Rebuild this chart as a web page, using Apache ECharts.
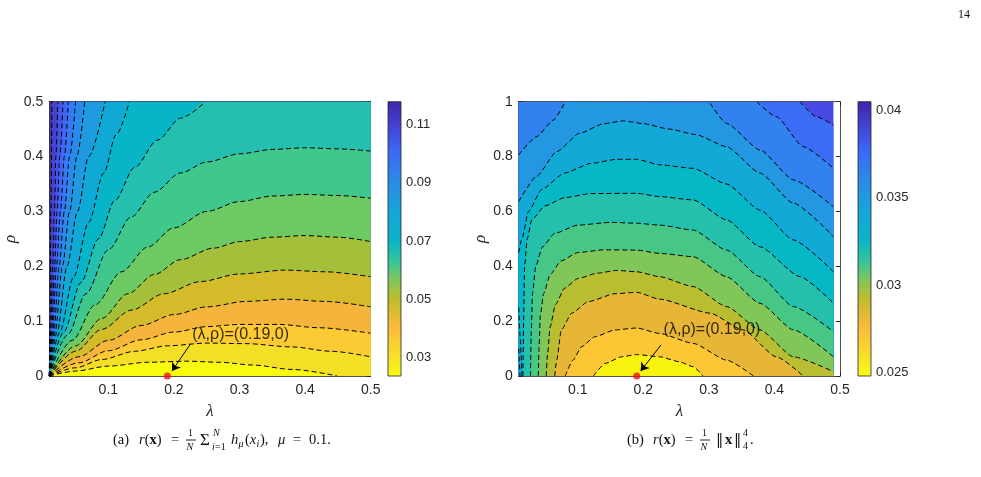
<!DOCTYPE html>
<html>
<head>
  <meta charset="utf-8">
  <title>Contour maps</title>
  <script src="https://cdn.jsdelivr.net/npm/echarts@6/dist/echarts.min.js"></script>
  <style>
    html, body { margin: 0; padding: 0; background: #fff; }
    #chart { width: 981px; height: 477px; }
  </style>
</head>
<body>
<div id="chart"></div>
<script>
  // axis ticks
  const lamTicks = [0.1, 0.2, 0.3, 0.4, 0.5];
  const cbTicksA = [0.03, 0.05, 0.07, 0.09, 0.11];
  const cbTicksB = [0.025, 0.03, 0.035, 0.04];
  const cbRangeA = [0.0237, 0.1178];
  const cbRangeB = [0.0248, 0.0405];
  const optimum = [0.19, 0];

  // (a) contour lines: [lambda, rho]
  // lines that end on the top edge
  const aL1 = [[0.01, 0], [0.011, 0.1], [0.0125, 0.3], [0.014, 0.5]];
  const aL2 = [[0.01, 0], [0.012, 0.08], [0.015, 0.2], [0.018, 0.3], [0.02, 0.4], [0.023, 0.5]];
  const aL3 = [[0.01, 0], [0.0135, 0.08], [0.018, 0.2], [0.022, 0.3], [0.026, 0.4], [0.031, 0.5]];
  const aL4 = [[0.01, 0], [0.015, 0.08], [0.021, 0.2], [0.027, 0.3], [0.033, 0.4], [0.039, 0.5]];
  const aL5 = [[0.01, 0], [0.017, 0.08], [0.025, 0.2], [0.033, 0.3], [0.041, 0.4], [0.05, 0.5]];
  const aL6 = [[0.01, 0], [0.019, 0.08], [0.03, 0.2], [0.041, 0.3], [0.052, 0.4], [0.064, 0.5]];
  const aL7 = [[0.01, 0], [0.022, 0.08], [0.037, 0.2], [0.053, 0.3], [0.07, 0.4], [0.095, 0.5]];
  const aL8 = [[0.01, 0], [0.026, 0.08], [0.047, 0.18], [0.07, 0.28], [0.093, 0.37], [0.112, 0.44], [0.132, 0.5]];
  const aL9 = [[0.01, 0], [0.032, 0.08], [0.058, 0.17], [0.085, 0.25], [0.11, 0.32], [0.14, 0.38], [0.175, 0.43], [0.21, 0.47], [0.248, 0.5]];
  // lines that end on the right edge (or bottom)
  const aR1 = [[0.01, 0], [0.038, 0.075], [0.066, 0.15], [0.1, 0.23], [0.135, 0.29], [0.17, 0.335], [0.21, 0.37], [0.25, 0.39], [0.3, 0.405], [0.35, 0.413], [0.4, 0.416], [0.45, 0.414], [0.5, 0.41]];
  const aR2 = [[0.01, 0], [0.045, 0.065], [0.08, 0.13], [0.12, 0.19], [0.16, 0.235], [0.2, 0.27], [0.25, 0.3], [0.3, 0.318], [0.35, 0.328], [0.4, 0.331], [0.45, 0.329], [0.5, 0.324]];
  const aR3 = [[0.01, 0], [0.05, 0.055], [0.09, 0.105], [0.13, 0.15], [0.17, 0.185], [0.21, 0.212], [0.26, 0.233], [0.3, 0.245], [0.35, 0.253], [0.4, 0.256], [0.45, 0.253], [0.5, 0.245]];
  const aR4 = [[0.01, 0], [0.05, 0.045], [0.09, 0.085], [0.135, 0.12], [0.185, 0.15], [0.24, 0.172], [0.3, 0.186], [0.37, 0.193], [0.43, 0.19], [0.5, 0.181]];
  const aR5 = [[0.01, 0], [0.055, 0.035], [0.1, 0.065], [0.15, 0.092], [0.2, 0.112], [0.25, 0.126], [0.31, 0.136], [0.37, 0.14], [0.43, 0.136], [0.5, 0.126]];
  const aR6 = [[0.01, 0], [0.055, 0.024], [0.1, 0.046], [0.15, 0.066], [0.2, 0.08], [0.25, 0.09], [0.3, 0.094], [0.36, 0.094], [0.42, 0.088], [0.5, 0.078]];
  const aR7 = [[0.01, 0], [0.05, 0.015], [0.09, 0.03], [0.14, 0.045], [0.19, 0.055], [0.25, 0.06], [0.31, 0.059], [0.38, 0.053], [0.44, 0.045], [0.5, 0.035]];
  const aG = [[0.01, 0], [0.05, 0.009], [0.1, 0.018], [0.16, 0.025], [0.22, 0.027], [0.27, 0.025], [0.32, 0.02], [0.38, 0.012], [0.449, 0]];

  // (b) contour lines
  const bA = [[0.01, 0.806], [0.037, 0.872], [0.063, 0.933], [0.081, 1]];
  const bC1 = [[0.439, 1], [0.464, 0.945], [0.49, 0.915]];
  const bC2 = [[0.373, 1], [0.403, 0.945], [0.444, 0.836], [0.49, 0.757]];
  const bC3 = [[0.302, 0.994], [0.327, 0.921], [0.378, 0.824], [0.429, 0.715], [0.49, 0.617]];
  const bC4 = [[0.01, 0.636], [0.037, 0.727], [0.068, 0.818], [0.103, 0.885], [0.14, 0.92], [0.17, 0.93], [0.2, 0.92], [0.24, 0.9], [0.28, 0.88], [0.327, 0.836], [0.378, 0.74], [0.429, 0.63], [0.49, 0.508]];
  const bC5 = [[0.01, 0.45], [0.015, 0.5], [0.025, 0.6], [0.045, 0.68], [0.08, 0.74], [0.12, 0.775], [0.16, 0.79], [0.19, 0.79], [0.225, 0.77], [0.276, 0.757], [0.327, 0.7], [0.378, 0.605], [0.429, 0.496], [0.49, 0.38]];
  const bC6 = [[0.0165, 0], [0.0175, 0.2], [0.019, 0.4], [0.023, 0.5], [0.03, 0.57], [0.05, 0.62], [0.08, 0.65], [0.12, 0.665], [0.19, 0.666], [0.225, 0.654], [0.276, 0.642], [0.327, 0.569], [0.378, 0.471], [0.439, 0.362], [0.49, 0.265]];
  const bC7 = [[0.028, 0], [0.029, 0.15], [0.031, 0.3], [0.036, 0.4], [0.046, 0.47], [0.065, 0.52], [0.1, 0.55], [0.15, 0.56], [0.19, 0.557], [0.225, 0.55], [0.276, 0.532], [0.327, 0.459], [0.378, 0.362], [0.429, 0.253], [0.49, 0.162]];
  const bC8 = [[0.04, 0], [0.041, 0.1], [0.043, 0.22], [0.048, 0.3], [0.058, 0.37], [0.075, 0.42], [0.1, 0.45], [0.14, 0.46], [0.19, 0.459], [0.225, 0.447], [0.276, 0.435], [0.327, 0.362], [0.378, 0.265], [0.429, 0.168], [0.49, 0.07]];
  const bC9 = [[0.052, 0], [0.054, 0.08], [0.058, 0.18], [0.066, 0.26], [0.08, 0.32], [0.1, 0.355], [0.13, 0.375], [0.16, 0.385], [0.19, 0.38], [0.225, 0.362], [0.276, 0.326], [0.327, 0.253], [0.378, 0.168], [0.429, 0.07], [0.49, 0.016]];
  const bC10 = [[0.065, 0], [0.068, 0.058], [0.075, 0.168], [0.091, 0.229], [0.116, 0.271], [0.157, 0.3], [0.19, 0.305], [0.225, 0.28], [0.302, 0.229], [0.352, 0.168], [0.403, 0.07], [0.444, 0]];
  const bC11 = [[0.081, 0], [0.093, 0.058], [0.106, 0.107], [0.126, 0.143], [0.157, 0.168], [0.19, 0.175], [0.225, 0.155], [0.276, 0.119], [0.327, 0.058], [0.368, 0]];
  const bC12 = [[0.124, 0], [0.142, 0.046], [0.167, 0.07], [0.19, 0.078], [0.225, 0.07], [0.255, 0.052], [0.276, 0.034], [0.291, 0]];
  // small pieces closing the bottom-left corner
  const bK5 = [[0.01, 0.25], [0.012, 0.15], [0.0138, 0.07], [0.015, 0]];
  const bK4 = [[0.01, 0.1], [0.011, 0.05], [0.012, 0]];

  // annotation anchors
  const labelA = [0.228, 0.075];
  const arrowA = [[0.225, 0.058], [0.197, 0.009]];
  const labelB = [0.231, 0.168];
  const arrowB = [[0.227, 0.113], [0.196, 0.018]];

  // band colours (fill below/right of each line)
  const bgA = '#3e35ab';
  const fillA = ['#4542cf', '#4653e6', '#4066f4', '#3479f7', '#2a8aec', '#1f9ae0', '#10a9d6', '#07b5c7',
    '#24bfae', '#3fc78c', '#6dc962', '#a4bf39', '#d3bb2a', '#f5b43c', '#fcca33', '#f3df26', '#f8fa10'];
  const bgB = '#4848e4';
  const fillB = ['#3a6cf6', '#3182ee', '#2497e2', '#12a9d6', '#06b7c6', '#24c0ab', '#46c786', '#80c659',
    '#b8bd31', '#e8b637', '#fcc634', '#f8f40f'];
  const cornerB = ['#12a9d6', '#2497e2'];
  const parulaStops = [[0, '#3e26a8'], [0.083, '#4340d0'], [0.18, '#3d68f5'], [0.295, '#2a8ce6'], [0.4, '#16a6da'],
    [0.508, '#0bb4c5'], [0.58, '#35c49a'], [0.65, '#80c65c'], [0.72, '#c0bc2c'], [0.82, '#fbba3c'], [0.93, '#f7e228'], [1, '#f9fb15']];

  const ink = '#262626';
  const topLinesA = [aL1, aL2, aL3, aL4, aL5, aL6, aL7, aL8, aL9];
  const sideLinesA = [aR1, aR2, aR3, aR4, aR5, aR6, aR7, aG];
  const linesB = [bA, bC1, bC2, bC3, bC4, bC5, bC6, bC7, bC8, bC9, bC10, bC11, bC12, bK5, bK4];
  const fillsB = [[[0.01, 1]].concat(bC1), [[0.01, 1]].concat(bC2), bA.concat(bC3), bC4, bC5, bC6, bC7, bC8, bC9, bC10, bC11, bC12];

  function fill(ax, pts, color, sm) {
    return {
      type: 'line', xAxisIndex: ax, yAxisIndex: ax, data: pts, symbol: 'none', silent: true,
      smooth: sm, smoothMonotone: 'x', lineStyle: { width: 0 },
      areaStyle: { color: color, opacity: 1, origin: 'start' }, z: 1, animation: false
    };
  }
  function dash(ax, pts, sm) {
    return {
      type: 'line', xAxisIndex: ax, yAxisIndex: ax, data: pts, symbol: 'none', silent: true,
      smooth: sm, smoothMonotone: 'x', lineStyle: { color: '#000', width: 1, type: [5, 3] }, z: 2, animation: false
    };
  }
  function annot(ax, label, arrow) {
    return [{
      type: 'scatter', xAxisIndex: ax, yAxisIndex: ax, data: [optimum], symbolSize: 7, clip: false, z: 6,
      itemStyle: { color: '#e8141c' },
      markLine: {
        silent: true, symbol: ['none', 'arrow'], symbolSize: 8, label: { show: false },
        lineStyle: { color: '#000', type: 'solid', width: 1 },
        data: [[{ coord: arrow[0] }, { coord: arrow[1] }]]
      }
    }, {
      type: 'scatter', xAxisIndex: ax, yAxisIndex: ax, data: [label], symbolSize: 0, z: 6, silent: true,
      label: {
        show: true, position: 'right', distance: 0, formatter: '(λ,ρ)=(0.19,0)',
        fontFamily: 'Liberation Sans', fontSize: 16, color: '#000'
      }
    }];
  }

  const series = [];
  topLinesA.forEach(function (l, i) { series.push(fill(0, l.concat([[0.5, 0.5]]), fillA[i], 0.3)); });
  sideLinesA.forEach(function (l, i) { series.push(fill(0, l, fillA[9 + i], 0.3)); });
  topLinesA.concat(sideLinesA).forEach(function (l) { series.push(dash(0, l, 0.3)); });
  series.push(fill(1, [[0.01, 1], [0.49, 1]], bgB, false));
  fillsB.forEach(function (l, i) { series.push(fill(1, l, fillB[i], 0.2)); });
  series.push(fill(1, bK5, cornerB[0], 0.2));
  series.push(fill(1, bK4, cornerB[1], 0.2));
  linesB.forEach(function (l) { series.push(dash(1, l, 0.2)); });
  series.push.apply(series, annot(0, labelA, arrowA));
  series.push.apply(series, annot(1, labelB, arrowB));

  // colour bars
  const stops = parulaStops.map(function (s) { return { offset: s[0], color: s[1] }; });
  function colorbar(ax, range) {
    return {
      type: 'custom', xAxisIndex: ax, yAxisIndex: ax, data: [[0, range[0], range[1]]], silent: true,
      renderItem: function (params, api) {
        const p0 = api.coord([api.value(0), api.value(1)]);
        const p1 = api.coord([api.value(0), api.value(2)]);
        const w = api.size([1, 0])[0];
        return {
          type: 'rect', shape: { x: p0[0] - w / 2, y: p1[1], width: w, height: p0[1] - p1[1] },
          style: { fill: new echarts.graphic.LinearGradient(0, 0, 0, 1, stops), stroke: ink, lineWidth: 0.8 }
        };
      }
    };
  }
  series.push(colorbar(2, cbRangeA));
  series.push(colorbar(3, cbRangeB));

  const lbl = { color: ink, fontFamily: 'Liberation Sans', fontSize: 14 };
  const cbLbl = { color: ink, fontFamily: 'Liberation Sans', fontSize: 13 };
  const nameStyle = { fontFamily: 'Liberation Serif', fontStyle: 'italic', fontSize: 17, color: ink };
  function lamAxis(grid, pos) {
    const bottom = pos === 'bottom';
    return {
      type: 'value', gridIndex: grid, position: pos, min: 0.01, max: 0.5,
      name: bottom ? 'λ' : '', nameLocation: 'middle', nameGap: 27, nameTextStyle: nameStyle,
      axisLine: { show: true, onZero: false, lineStyle: { color: ink, width: 0.8 } },
      axisTick: { show: true, inside: true, length: 4, customValues: lamTicks, lineStyle: { color: ink } },
      axisLabel: Object.assign({ show: bottom, margin: 7, customValues: lamTicks }, lbl),
      splitLine: { show: false }
    };
  }
  function rhoAxis(grid, pos, max, step) {
    const left = pos === 'left';
    return {
      type: 'value', gridIndex: grid, position: pos, min: 0, max: max, interval: step,
      name: left ? 'ρ' : '', nameLocation: 'middle', nameGap: 30, nameRotate: 90, nameTextStyle: nameStyle,
      axisLine: { show: true, onZero: false, lineStyle: { color: ink, width: 0.8 } },
      axisTick: { show: true, inside: true, length: 4, lineStyle: { color: ink } },
      axisLabel: Object.assign({ show: left, margin: 6 }, lbl),
      splitLine: { show: false }
    };
  }
  function cbAxis(grid, range, ticks) {
    return {
      type: 'value', gridIndex: grid, position: 'right', min: range[0], max: range[1],
      axisLine: { show: false },
      axisTick: { show: true, inside: true, length: 3, customValues: ticks, lineStyle: { color: ink } },
      axisLabel: Object.assign({ show: true, margin: 5, customValues: ticks }, cbLbl),
      splitLine: { show: false }
    };
  }
  function cbCat(grid) {
    return { type: 'category', gridIndex: grid, data: ['c'], show: false, boundaryGap: true };
  }

  // caption pieces (serif, like the paper)
  const serif = 'Liberation Serif';
  const cs = 14.5;
  function txt(x, y, s, size, extra) {
    return { type: 'text', x: x, y: y, silent: true,
      style: Object.assign({ text: s, fontFamily: serif, fontSize: size, fill: '#111', verticalAlign: 'middle' }, extra || {}) };
  }
  function frac(x, y) {
    return [txt(x + 2, y - 7, '1', 10), { type: 'line', silent: true, shape: { x1: x, y1: y, x2: x + 10, y2: y }, style: { stroke: '#111', lineWidth: 0.9 } },
      txt(x + 0.5, y + 7, 'N', 10, { fontStyle: 'italic' })];
  }
  const capY = 440;
  const rich = {
    t: { fontFamily: serif, fontSize: cs, color: '#111' },
    i: { fontFamily: serif, fontSize: cs, color: '#111', fontStyle: 'italic' },
    b: { fontFamily: serif, fontSize: cs, color: '#111', fontWeight: 'bold' }
  };
  const it = { fontStyle: 'italic' };
  const captionA = [
    txt(113, capY, '(a)', cs),
    txt(139, capY, '{i|r}{t|(}{b|x}{t|)}', cs, { rich: rich }),
    txt(171, capY, '=', cs),
    ...frac(186, capY),
    txt(200, capY + 1, 'Σ', 17),
    txt(213, capY - 7, 'N', 10, it),
    txt(212, capY + 7, 'i', 10, it),
    txt(215, capY + 7, '=1', 10),
    txt(231, capY, 'h', cs, it),
    txt(238.5, capY + 4, 'μ', 10, it),
    txt(245, capY, '{t|(}{i|x}', cs, { rich: rich }),
    txt(256.5, capY + 4, 'i', 10, it),
    txt(260, capY, '),', cs),
    txt(278, capY, 'μ', cs, it),
    txt(293, capY, '=', cs),
    txt(309, capY, '0.1.', cs)
  ];
  const captionB = [
    txt(627, capY, '(b)', cs),
    txt(653, capY, '{i|r}{t|(}{b|x}{t|)}', cs, { rich: rich }),
    txt(685, capY, '=', cs),
    ...frac(700, capY),
    txt(716, capY, '‖', cs, { fontFamily: 'DejaVu Serif' }),
    txt(725, capY, 'x', cs, { fontWeight: 'bold' }),
    txt(734, capY, '‖', cs, { fontFamily: 'DejaVu Serif' }),
    txt(743, capY - 7, '4', 10),
    txt(743, capY + 6, '4', 10),
    txt(750, capY, '.', cs)
  ];

  const chart = echarts.init(document.getElementById('chart'), null, { renderer: 'canvas' });
  chart.setOption({
    animation: false,
    backgroundColor: '#fff',
    grid: [
      { left: 49.3, top: 101.7, width: 321.4, height: 274.3, show: true, backgroundColor: bgA, borderWidth: 0 },
      { left: 518.7, top: 101.7, width: 321.3, height: 274.3 },
      { left: 388, top: 101.7, width: 13, height: 274.3 },
      { left: 858, top: 101.7, width: 13, height: 274.3 }
    ],
    xAxis: [lamAxis(0, 'bottom'), lamAxis(1, 'bottom'), cbCat(2), cbCat(3), lamAxis(0, 'top'), lamAxis(1, 'top')],
    yAxis: [rhoAxis(0, 'left', 0.5, 0.1), rhoAxis(1, 'left', 1, 0.2), cbAxis(2, cbRangeA, cbTicksA), cbAxis(3, cbRangeB, cbTicksB),
      rhoAxis(0, 'right', 0.5, 0.1), rhoAxis(1, 'right', 1, 0.2)],
    series: series,
    graphic: [txt(958, 15, '14', 12)].concat(captionA, captionB)
  });
</script>
</body>
</html>
